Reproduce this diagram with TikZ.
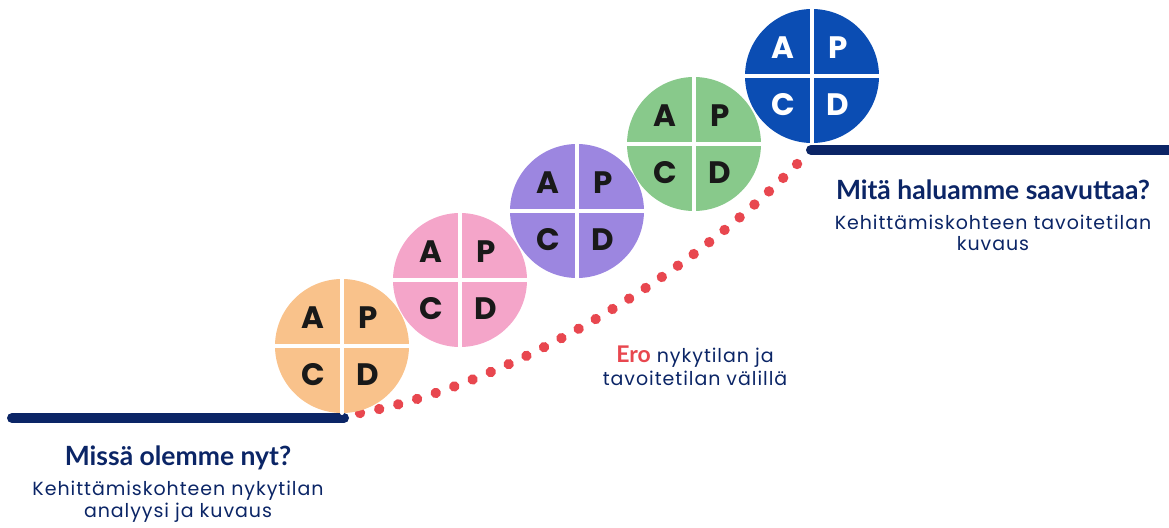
\documentclass[tikz,border=0pt]{standalone}
\usepackage{fontspec}
\setmainfont{Poppins}[LetterSpace=5]
\newfontfamily\headfont{Lato}
\newfontfamily\wheelfont{Poppins}
\usepackage{tikz}
\usetikzlibrary{calc, decorations.markings}
\definecolor{navy}{HTML}{0B2566}
\definecolor{dotred}{HTML}{E8474F}
\definecolor{wheelorange}{HTML}{F9C28B}
\definecolor{wheelpink}{HTML}{F4A5C9}
\definecolor{wheelpurple}{HTML}{9C86E0}
\definecolor{wheelgreen}{HTML}{88C98B}
\definecolor{wheelblue}{HTML}{0B4DB3}
\newcommand{\PdcaWheel}[3][black!90]{
	\def\lpin{#2}
	\def\lfill{#3}
	\def\lr{67}
	\fill[\lfill] (\lpin) circle (\lr pt);
	\draw[white, line width=4pt] ($(\lpin)+(-\lr,0)$) -- ($(\lpin)+(\lr,0)$);
	\draw[white, line width=4pt] ($(\lpin)+(0,-\lr)$) -- ($(\lpin)+(0,\lr)$);
	\node[letter, text=#1] (#2-A) at ($(\lpin)+(-29,-28)$) {A};
	\node[letter, text=#1] (#2-P) at ($(\lpin)+(26,-28)$) {P};
	\node[letter, text=#1] (#2-C) at ($(\lpin)+(-29,29)$) {C};
	\node[letter, text=#1] (#2-D) at ($(\lpin)+(26,29)$) {D};
}

\begin{document}
\begin{tikzpicture}[x=1pt, y=-1pt, line cap=round,
	letter/.style={font=\wheelfont\fontsize{31}{31}\selectfont\bfseries, inner sep=0pt},
	title/.style={font=\headfont\bfseries\fontsize{26.5}{30}\selectfont, text=navy, align=center},
	caption/.style={font=\fontsize{19}{23}\selectfont, text=navy, align=center},
	decoration={
		markings,
		mark=between positions 0 and 1 step 19.6pt
		with
		{
			\fill[dotred] (0,0) circle (5.2pt);
		}
	}]
	\useasboundingbox (0,0) rectangle (1169,527);

	\coordinate (W1) at (342,346);
	\coordinate (W2) at (460,280);
	\coordinate (W3) at (577,211);
	\coordinate (W4) at (694,144);
	\coordinate (W5) at (812,76);

	\coordinate (nowL) at (12,418);
	\coordinate (nowR) at (344,418);
	\coordinate (goalL) at (811,150);
	\coordinate (goalR) at (1175,150);

	% gap between the two levels
	\path[decorate] ($(nowR)+(16,-5)$) .. controls (500,387) and (680,285) .. ($(goalL)+(-11,11)$);

	\draw[navy, line width=10pt] (nowL) -- (nowR);
	\draw[navy, line width=10pt] (goalL) -- (goalR);

	\PdcaWheel{W1}{wheelorange}
	\PdcaWheel{W2}{wheelpink}
	\PdcaWheel{W3}{wheelpurple}
	\PdcaWheel{W4}{wheelgreen}
	\PdcaWheel[white]{W5}{wheelblue}

	\node[title] (nowtitle) at (178,458) {Missä olemme nyt?};
	\node[caption, below=4pt, font=\fontsize{19}{22}\selectfont] (nowtext) at (nowtitle.south) {Kehittämiskohteen nykytilan\\analyysi ja kuvaus};

	\node[title] (goaltitle) at (993,190) {Mitä haluamme saavuttaa?};
	\node[caption, below=8pt, font=\fontsize{19}{21.5}\selectfont] (goaltext) at (goaltitle.south) {Kehittämiskohteen tavoitetilan\\kuvaus};

	\node[caption] (gaptext) at (695,366) {{\headfont\bfseries\fontsize{23}{23}\selectfont\color{dotred}Ero} nykytilan ja\\tavoitetilan välillä};
\end{tikzpicture}
\end{document}
